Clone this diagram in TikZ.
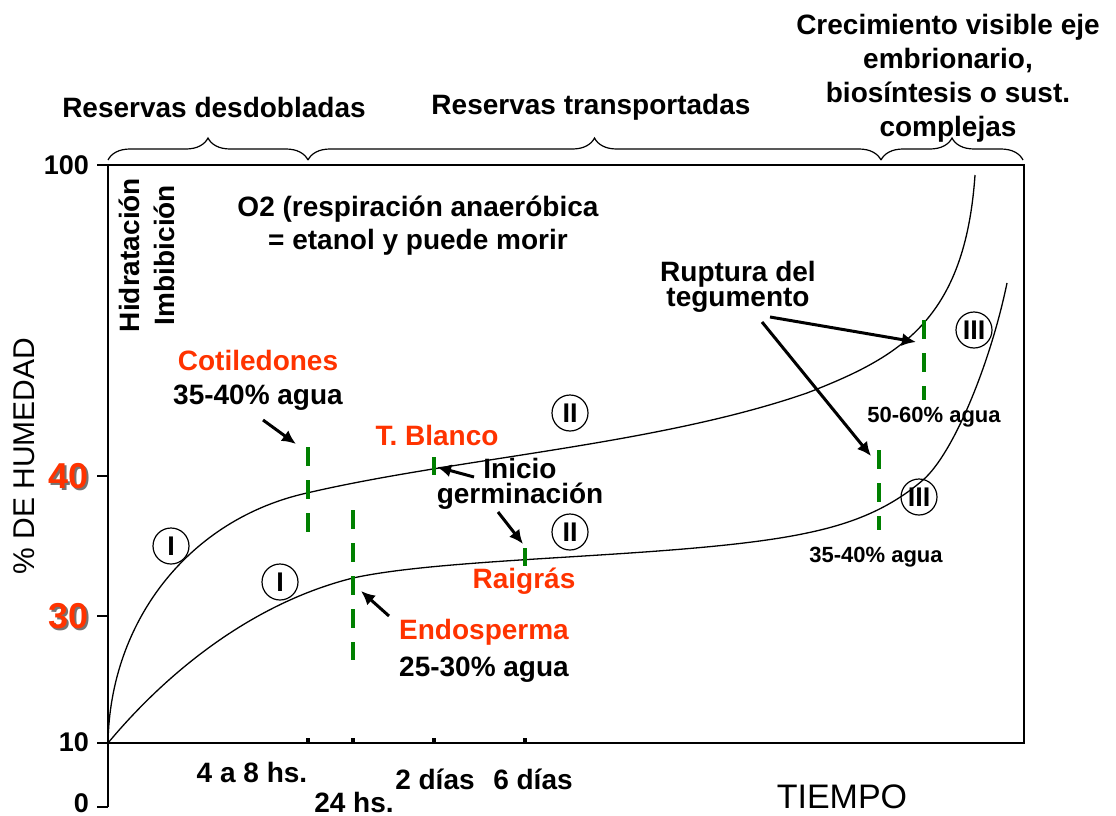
\documentclass[tikz,border=0pt]{standalone}
\usepackage{fontspec}
\setmainfont{Liberation Sans}
\usetikzlibrary{arrows.meta,positioning,calc,decorations.pathreplacing}
\definecolor{tagred}{RGB}{255,51,0}
\definecolor{markgreen}{RGB}{0,128,0}

\begin{document}
\begin{tikzpicture}[x=1pt, y=-1pt,
    big/.style={font=\bfseries\fontsize{28}{33}\selectfont, inner sep=0pt, align=center},
    tight/.style={font=\bfseries\fontsize{28}{25}\selectfont, inner sep=0pt, align=center},
    small/.style={font=\bfseries\fontsize{22}{24}\selectfont, inner sep=0pt},
    plain/.style={font=\fontsize{30}{32}\selectfont, inner sep=0pt},
    axnum/.style={font=\bfseries\fontsize{27}{27}\selectfont, inner sep=0pt, anchor=east},
    rednum/.style={font=\bfseries\fontsize{36}{36}\selectfont, inner sep=0pt, anchor=east},
    stage/.style={circle, draw, line width=1.2pt, minimum size=36pt, inner sep=0pt,
                  font=\bfseries\fontsize{27}{27}\selectfont},
    greendash/.style={markgreen, line width=4pt, dash pattern=on 19pt off 14pt},
    greenmark/.style={markgreen, line width=4pt},
    pointer/.style={-{Latex[length=14pt,width=13pt]}, line width=3pt},
    curly/.style={decorate, decoration={brace, amplitude=22pt}, line width=1.2pt},
    curve/.style={line width=1.3pt}]
    \useasboundingbox (0,0) rectangle (1116,816);

    % phases above the plot
    \coordinate (b0) at (108,160);
    \coordinate (b1) at (308,160);
    \coordinate (b2) at (881,160);
    \coordinate (b3) at (1023,160);
    \draw[curly] (b0) -- (b1);
    \draw[curly] (b1) -- (b2);
    \draw[curly] (b2) -- (b3);
    \node[big] (desdob) at (214,107) {Reservas desdobladas};
    \node[big] (transp) at (591,107) {Reservas transportadas};
    \node[big, font=\bfseries\fontsize{28}{34}\selectfont] (crec) at (948,78)
        {Crecimiento visible eje\\embrionario,\\biosíntesis o sust.\\complejas};

    % frame and axes
    \draw[line width=1.6pt] (108,165) rectangle (1024,743);
    \draw[line width=1.6pt] (108,743) -- (108,807);
    \foreach \y in {165,476,616,743,807}
        \draw[line width=1.6pt] (97,\y) -- (108,\y);
    \foreach \x in {308,353,434,525}
        \draw[line width=4pt] (\x,738) -- (\x,743);

    % y values
    \node[axnum] (y100) at (89,165) {100};
    \node[rednum, black!55] (y40s) at (91,478) {40};
    \node[rednum, tagred] (y40) at (89,476) {40};
    \node[rednum, black!55] (y30s) at (91,618) {30};
    \node[rednum, tagred] (y30) at (89,616) {30};
    \node[axnum] (y10) at (89,742) {10};
    \node[axnum] (y0) at (89,803) {0};
    \node[plain, rotate=90] (humedad) at (24,456) {\% DE HUMEDAD};

    % x values
    \node[big] (t48) at (252,772) {4 a 8 hs.};
    \node[big] (t24) at (354,802) {24 hs.};
    \node[big] (t2d) at (435,779) {2 días};
    \node[big] (t6d) at (533,779) {6 días};
    \node[font=\fontsize{34}{34}\selectfont, inner sep=0pt] (tiempo) at (842,797) {TIEMPO};

    % curves
    \draw[curve] (108,743) .. controls (110,620) and (190,519) .. (307,493)
        .. controls (457,458) and (657,445) .. (807,393)
        .. controls (900,357) and (965,320) .. (975,175);
    \draw[curve] (108,743) .. controls (168,671) and (253,603) .. (353,578)
        .. controls (453,556) and (690,558) .. (807,533)
        .. controls (850,524) and (888,510) .. (923,480)
        .. controls (953,454) and (990,365) .. (1007,283);

    % stages
    \node[stage] (s1a) at (171,546) {I};
    \node[stage] (s1b) at (280,582) {I};
    \node[stage] (s2a) at (570,413) {II};
    \node[stage] (s2b) at (570,532) {II};
    \node[stage] (s3a) at (974,330) {III};
    \node[stage] (s3b) at (919,497) {III};

    % green markers
    \coordinate (m1t) at (308,447); \coordinate (m1b) at (308,535);
    \coordinate (m2t) at (353,510); \coordinate (m2b) at (353,660);
    \coordinate (m3t) at (434,457); \coordinate (m3b) at (434,475);
    \coordinate (m4t) at (525,548); \coordinate (m4b) at (525,566);
    \coordinate (m5t) at (924,320); \coordinate (m5b) at (924,400);
    \coordinate (m6t) at (879,450); \coordinate (m6b) at (879,530);
    \draw[greendash] (m1t) -- (m1b);
    \draw[greendash] (m2t) -- (m2b);
    \draw[greenmark] (m3t) -- (m3b);
    \draw[greenmark] (m4t) -- (m4b);
    \draw[greendash] (m5t) -- (m5b);
    \draw[greendash] (m6t) -- (m6b);

    % texts in the plot
    \node[big, rotate=90] (hidra) at (129,255) {Hidratación};
    \node[big, rotate=90] (imbib) at (164,255) {Imbibición};
    \node[big] (oxig) at (418,226) {O2 (respiración anaeróbica\\= etanol y puede morir};
    \node[big, tagred] (cotil) at (258,360) {Cotiledones};
    \node[big] (cotagua) at (258,398) {35-40\% agua};
    \node[big, tagred] (blanco) at (437,435) {T. Blanco};
    \node[tight] (inicio) at (520,484) {Inicio\\germinación};
    \node[big, tagred] (raigras) at (524,581) {Raigrás};
    \node[big, tagred] (endosp) at (484,632) {Endosperma};
    \node[big] (endagua) at (484,670) {25-30\% agua};
    \node[tight] (ruptura) at (738,287) {Ruptura del\\tegumento};
    \node[small] (agua5060) at (934,417) {50-60\% agua};
    \node[small] (agua3540) at (876,557) {35-40\% agua};

    % pointers
    \coordinate (p1s) at (263,420); \coordinate (p1e) at (296,444);
    \coordinate (p2s) at (474,477); \coordinate (p2e) at (437,467);
    \coordinate (p3s) at (498,512); \coordinate (p3e) at (523,544);
    \coordinate (p4s) at (389,616); \coordinate (p4e) at (361,591);
    \coordinate (p5s) at (770,317); \coordinate (p5e) at (916,342);
    \coordinate (p6s) at (762,322); \coordinate (p6e) at (871,456);
    \foreach \a in {1,...,6}
        \draw[pointer] (p\a s) -- (p\a e);
\end{tikzpicture}
\end{document}
